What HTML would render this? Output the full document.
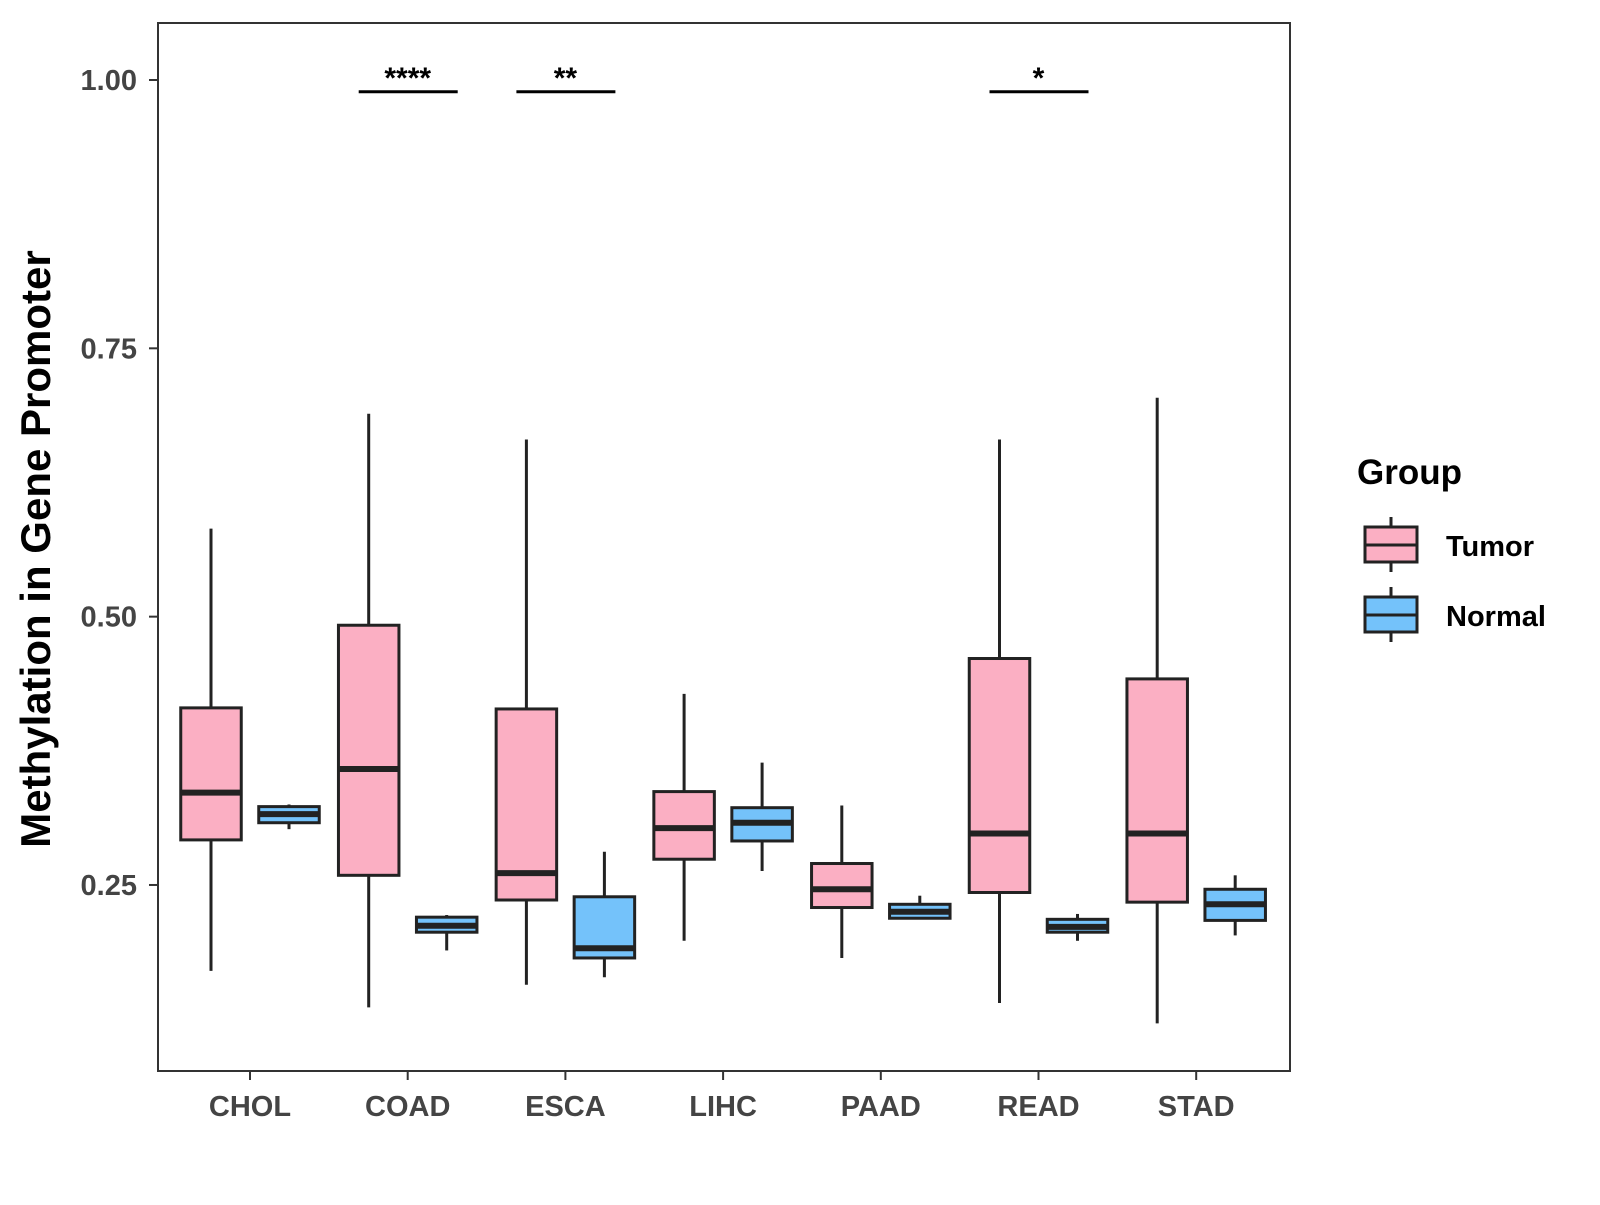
<!DOCTYPE html>
<html><head><meta charset="utf-8"><style>
body{margin:0;background:#fff}
svg text{font-family:"Liberation Sans",sans-serif;font-weight:bold}
</style></head><body>
<svg id="chart" width="1600" height="1200" viewBox="0 0 1600 1200">
<rect x="0" y="0" width="1600" height="1200" fill="#fff"/>
<g id="plot"></g>
<text x="39" y="549" font-size="42" text-anchor="middle" dominant-baseline="middle" transform="rotate(-90 39 549)">Methylation in Gene Promoter</text>
<g>
<text x="1357" y="484" font-size="35">Group</text>
<g>
<line x1="1391" y1="517" x2="1391" y2="572" stroke="#222" stroke-width="3"/>
<rect x="1365" y="527" width="52" height="35" fill="#fbafc3" stroke="#222" stroke-width="3"/>
<line x1="1365" y1="545" x2="1417" y2="545" stroke="#222" stroke-width="3"/>
<text x="1446" y="556" font-size="29">Tumor</text></g>
<g>
<line x1="1391" y1="587" x2="1391" y2="642" stroke="#222" stroke-width="3"/>
<rect x="1365" y="597" width="52" height="35" fill="#74c2fa" stroke="#222" stroke-width="3"/>
<line x1="1365" y1="615" x2="1417" y2="615" stroke="#222" stroke-width="3"/>
<text x="1446" y="626" font-size="29">Normal</text></g>
</g>
</svg>
<script>
const categories=["CHOL","COAD","ESCA","LIHC","PAAD","READ","STAD"];
const tumorStats=[[0.170,0.292,0.336,0.415,0.582],[0.136,0.259,0.358,0.492,0.689],[0.157,0.236,0.261,0.414,0.665],[0.198,0.274,0.303,0.337,0.428],[0.182,0.229,0.246,0.270,0.324],[0.140,0.243,0.298,0.461,0.665],[0.121,0.234,0.298,0.442,0.704]];
const normalStats=[[0.302,0.308,0.316,0.323,0.325],[0.189,0.206,0.212,0.220,0.222],[0.164,0.182,0.191,0.239,0.281],[0.263,0.291,0.308,0.322,0.364],[0.219,0.219,0.225,0.232,0.240],[0.198,0.206,0.211,0.218,0.223],[0.203,0.217,0.232,0.246,0.259]];
const yTicks=[0.25,0.50,0.75,1.00];
const yTickLabels=["0.25","0.50","0.75","1.00"];
const sigCats=["COAD","ESCA","READ"];
const sigLabels=["****","**","*"];
const sigY=0.989;
const NS="http://www.w3.org/2000/svg";
const L=158,R=1290,T=23,B=1071;
const y=v=>80+(1-v)*1073.3;
const x=i=>250+i*157.7;
const g=document.getElementById('plot');
function mk(t,a,p){const e=document.createElementNS(NS,t);for(const k in a)e.setAttribute(k,a[k]);(p||g).appendChild(e);return e;}
const frame=mk('rect',{x:L,y:T,width:R-L,height:B-T,fill:'none',stroke:'#333',"stroke-width":2});


yTicks.forEach((v,i)=>{
 const tk=mk('line',{x1:L-9,x2:L,y1:y(v),y2:y(v),stroke:'#333','stroke-width':2});
 
 
 const t=mk('text',{x:L-21,y:y(v)+10,'font-size':29,'text-anchor':'end',fill:'#444'});
 t.textContent=yTickLabels[i];
 
 
});
categories.forEach((c,i)=>{
 const tk=mk('line',{x1:x(i),x2:x(i),y1:B,y2:B+9,stroke:'#333','stroke-width':2});
 
 
 const t=mk('text',{x:x(i),y:1116,'font-size':29,'text-anchor':'middle',fill:'#444'});
 t.textContent=c;
 
 
});
function box(cx,s,fill,name){
 const w=60.5;
 const grp=mk('g',{});
 
 
 mk('line',{x1:cx,x2:cx,y1:y(s[4]),y2:y(s[0]),stroke:'#222','stroke-width':3},grp);
 mk('rect',{x:cx-w/2,y:y(s[3]),width:w,height:Math.max(1,y(s[1])-y(s[3])),fill:fill,stroke:'#222','stroke-width':3},grp);
 mk('line',{x1:cx-w/2,x2:cx+w/2,y1:y(s[2]),y2:y(s[2]),stroke:'#222','stroke-width':6},grp);
}
categories.forEach((c,i)=>{
 box(x(i)-39,tumorStats[i],'#fbafc3','box-'+c.toLowerCase()+'-tumor');
 box(x(i)+39,normalStats[i],'#74c2fa','box-'+c.toLowerCase()+'-normal');
});
sigCats.forEach((c,k)=>{
 const i=categories.indexOf(c);
 const ln=mk('line',{x1:x(i)-49,x2:x(i)+50,y1:y(sigY),y2:y(sigY),stroke:'#000','stroke-width':3});
 
 
 const t=mk('text',{x:x(i),y:y(sigY)-4,'font-size':30,'text-anchor':'middle',fill:'#000'});
 t.textContent=sigLabels[k];
 
 
});
</script>
</body></html>
